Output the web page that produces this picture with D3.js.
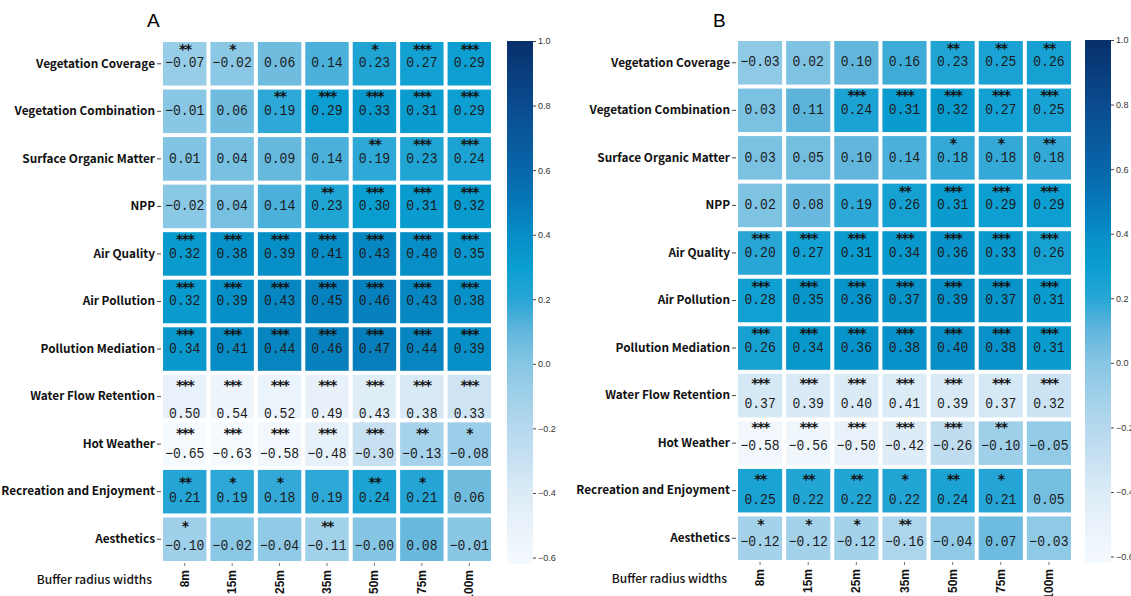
<!DOCTYPE html>
<html>
<head>
<meta charset="utf-8">
<script src="https://cdn.jsdelivr.net/npm/d3@7/dist/d3.min.js"></script>
<style>
  html, body { margin: 0; padding: 0; background: #fff; }
  svg { display: block; }
</style>
</head>
<body>
<svg id="chart" width="1131" height="596"></svg>
<script>
// ---------------- DATA ----------------
const rowLabels = [
  "Vegetation Coverage", "Vegetation Combination", "Surface Organic Matter", "NPP",
  "Air Quality", "Air Pollution", "Pollution Mediation", "Water Flow Retention",
  "Hot Weather", "Recreation and Enjoyment", "Aesthetics"
];
const bufferWidths = ["8m", "15m", "25m", "35m", "50m", "75m", "100m"];
const xAxisTitle = "Buffer radius widths";

// Displayed coefficients, panel A
const valuesA = [
  [-0.07, -0.02, 0.06, 0.14, 0.23, 0.27, 0.29],
  [-0.01, 0.06, 0.19, 0.29, 0.33, 0.31, 0.29],
  [0.01, 0.04, 0.09, 0.14, 0.19, 0.23, 0.24],
  [-0.02, 0.04, 0.14, 0.23, 0.30, 0.31, 0.32],
  [0.32, 0.38, 0.39, 0.41, 0.43, 0.40, 0.35],
  [0.32, 0.39, 0.43, 0.45, 0.46, 0.43, 0.38],
  [0.34, 0.41, 0.44, 0.46, 0.47, 0.44, 0.39],
  [0.50, 0.54, 0.52, 0.49, 0.43, 0.38, 0.33],
  [-0.65, -0.63, -0.58, -0.48, -0.30, -0.13, -0.08],
  [0.21, 0.19, 0.18, 0.19, 0.24, 0.21, 0.06],
  [-0.10, -0.02, -0.04, -0.11, -0.00, 0.08, -0.01]
];
const starsA = [
  ["**", "*", "", "", "*", "***", "***"],
  ["", "", "**", "***", "***", "***", "***"],
  ["", "", "", "", "**", "***", "***"],
  ["", "", "", "**", "***", "***", "***"],
  ["***", "***", "***", "***", "***", "***", "***"],
  ["***", "***", "***", "***", "***", "***", "***"],
  ["***", "***", "***", "***", "***", "***", "***"],
  ["***", "***", "***", "***", "***", "***", "***"],
  ["***", "***", "***", "***", "***", "**", "*"],
  ["**", "*", "*", "", "**", "*", ""],
  ["*", "", "", "**", "", "", ""]
];

// Displayed coefficients, panel B
const valuesB = [
  [-0.03, 0.02, 0.10, 0.16, 0.23, 0.25, 0.26],
  [0.03, 0.11, 0.24, 0.31, 0.32, 0.27, 0.25],
  [0.03, 0.05, 0.10, 0.14, 0.18, 0.18, 0.18],
  [0.02, 0.08, 0.19, 0.26, 0.31, 0.29, 0.29],
  [0.20, 0.27, 0.31, 0.34, 0.36, 0.33, 0.26],
  [0.28, 0.35, 0.36, 0.37, 0.39, 0.37, 0.31],
  [0.26, 0.34, 0.36, 0.38, 0.40, 0.38, 0.31],
  [0.37, 0.39, 0.40, 0.41, 0.39, 0.37, 0.32],
  [-0.58, -0.56, -0.50, -0.42, -0.26, -0.10, -0.05],
  [0.25, 0.22, 0.22, 0.22, 0.24, 0.21, 0.05],
  [-0.12, -0.12, -0.12, -0.16, -0.04, 0.07, -0.03]
];
const starsB = [
  ["", "", "", "", "**", "**", "**"],
  ["", "", "***", "***", "***", "***", "***"],
  ["", "", "", "", "*", "*", "**"],
  ["", "", "", "**", "***", "***", "***"],
  ["***", "***", "***", "***", "***", "***", "***"],
  ["***", "***", "***", "***", "***", "***", "***"],
  ["***", "***", "***", "***", "***", "***", "***"],
  ["***", "***", "***", "***", "***", "***", "***"],
  ["***", "***", "***", "***", "***", "**", ""],
  ["**", "**", "**", "*", "**", "*", ""],
  ["*", "*", "*", "**", "", "", ""]
];

// The Water Flow Retention row is coloured as a negative correlation in the source
const colourSign = [1, 1, 1, 1, 1, 1, 1, -1, 1, 1, 1];

const colourbarTicks = [-0.6, -0.4, -0.2, 0.0, 0.2, 0.4, 0.6, 0.8, 1.0];
const colourDomain = [-0.62, 1.0];

// ---------------- STYLE ----------------
const cmapStops = [-0.62, -0.5, -0.4, -0.3, -0.2, -0.1, 0.0, 0.1, 0.2, 0.3, 0.4, 0.5, 0.6, 0.8, 1.0];
const cmapColours = ["#f5fafe", "#e9f2fa", "#dbebf6", "#c8e1f2", "#b5d8ee", "#a0d0e9", "#86c6e4",
                     "#62b6dc", "#28a6d6", "#0a9ed0", "#078ec6", "#0578b8", "#0866a9", "#0a4b8f", "#08306b"];
const colour = d3.scaleLinear().domain(cmapStops).range(cmapColours).interpolate(d3.interpolateRgb).clamp(true);

const panels = [
  { title: "A", titleX: 147, values: valuesA, stars: starsA,
    x0: 161, x1: 493, y0: 40, y1: 563, cbX: 507, cbW: 26,
    starOff: [-15, -15, -15, -14, -15, -15, -15, -12, -11, -10, -13],
    numOff:  [0, 0, 0, 0, 0, 0, 0, 18, 10, 7, 7] },
  { title: "B", titleX: 713, values: valuesB, stars: starsB,
    x0: 736, x1: 1073, y0: 39, y1: 562, cbX: 1085, cbW: 26,
    starOff: [-15, -15, -15, -14, -15, -15, -15, -13, -16, -12, -14],
    numOff:  [0, 0, 0, 0, 0, 0, 0, 9, 3, 10, 4] }
];

const labelFont = "'Noto Sans CJK SC', 'Noto Sans', sans-serif";
const monoFont = "'Liberation Mono', 'DejaVu Sans Mono', monospace";
const fmt = v => ((v < 0 || Object.is(v, -0)) ? "\u2212" : "") + Math.abs(v).toFixed(2);

const svg = d3.select("#chart");
const defs = svg.append("defs");

panels.forEach((p, pi) => {
  const g = svg.append("g");
  const x = d3.scaleBand().domain(bufferWidths).range([p.x0, p.x1]);
  const y = d3.scaleBand().domain(rowLabels).range([p.y0, p.y1]);

  const cells = [];
  p.values.forEach((row, ri) => row.forEach((v, ci) => {
    cells.push({ r: rowLabels[ri], c: bufferWidths[ci], v, s: p.stars[ri][ci], ri });
  }));

  const cg = g.selectAll("g.cell").data(cells).join("g").attr("class", "cell");
  cg.append("rect")
    .attr("x", d => x(d.c) + 2)
    .attr("y", d => y(d.r) + 2)
    .attr("width", x.bandwidth() - 4)
    .attr("height", y.bandwidth() - 4)
    .attr("fill", d => colour(d.v * colourSign[d.ri]));
  cg.append("text")
    .attr("transform", d => `translate(${x(d.c) + x.bandwidth() / 2},${y(d.r) + y.bandwidth() / 2 + p.numOff[d.ri]}) scale(0.9,1)`)
    .attr("text-anchor", "middle")
    .attr("dominant-baseline", "central")
    .attr("font-family", monoFont)
    .attr("font-size", 14.5)
    .attr("fill", "#1a1a1a")
    .text(d => fmt(d.v));
  cg.filter(d => d.s).append("text")
    .attr("x", d => x(d.c) + x.bandwidth() / 2)
    .attr("y", d => y(d.r) + y.bandwidth() / 2 + p.starOff[d.ri])
    .attr("text-anchor", "middle")
    .attr("dominant-baseline", "central")
    .attr("font-family", "'DejaVu Sans', sans-serif")
    .attr("font-size", 14)
    .attr("font-weight", "bold")
    .attr("fill", "#111")
    .attr("letter-spacing", -1.5)
    .text(d => d.s);

  // Row axis
  const ya = g.append("g").attr("transform", `translate(${p.x0},0)`)
    .call(d3.axisLeft(y).tickSize(4).tickPadding(2));
  ya.select(".domain").remove();
  ya.selectAll("line").attr("stroke", "#444");
  ya.selectAll("text")
    .attr("font-family", labelFont)
    .attr("font-size", 11.8).attr("font-weight", "bold").attr("fill", "#111");

  // Column axis
  const xa = g.append("g").attr("transform", `translate(0,${p.y1})`)
    .call(d3.axisBottom(x).tickSize(3).tickPadding(0));
  xa.select(".domain").remove();
  xa.selectAll("line").attr("stroke", "#777");
  xa.selectAll("text")
    .attr("font-family", "'Liberation Sans', Arial, sans-serif")
    .attr("font-size", 12).attr("font-weight", "bold").attr("fill", "#111")
    .attr("text-anchor", "end")
    .attr("dy", null)
    .attr("transform", "translate(0,7) rotate(-90)")
    .attr("x", 0).attr("y", 0).attr("dominant-baseline", "central");

  g.append("text").attr("x", p.x0 - 9).attr("y", p.y1 + 15)
    .attr("text-anchor", "end").attr("dominant-baseline", "central")
    .attr("font-family", labelFont)
    .attr("font-size", 12).attr("font-weight", 500).attr("fill", "#111")
    .text(xAxisTitle);

  // Title
  g.append("text").attr("x", p.titleX).attr("y", 20)
    .attr("dominant-baseline", "central")
    .attr("font-family", "'Liberation Sans', Arial, sans-serif")
    .attr("font-size", 19).attr("fill", "#000")
    .text(p.title);

  // Colourbar
  const cy = d3.scaleLinear().domain(colourDomain).range([p.y1 + 1, p.y0 + 1]);
  const gid = "grad" + pi;
  const grad = defs.append("linearGradient").attr("id", gid)
    .attr("x1", 0).attr("y1", 1).attr("x2", 0).attr("y2", 0);
  cmapStops.forEach((s, i) => {
    grad.append("stop")
      .attr("offset", (s - colourDomain[0]) / (colourDomain[1] - colourDomain[0]))
      .attr("stop-color", cmapColours[i]);
  });
  g.append("rect").attr("x", p.cbX).attr("y", cy(colourDomain[1]))
    .attr("width", p.cbW).attr("height", cy(colourDomain[0]) - cy(colourDomain[1]))
    .attr("fill", `url(#${gid})`);
  const ca = g.append("g").attr("transform", `translate(${p.cbX + p.cbW},0)`)
    .call(d3.axisRight(cy).tickValues(colourbarTicks).tickFormat(d3.format(".1f")).tickSize(3).tickPadding(2));
  ca.select(".domain").remove();
  ca.selectAll("line").attr("stroke", "#444");
  ca.selectAll("text").attr("font-family", "'Liberation Sans', Arial, sans-serif")
    .attr("font-size", 9).attr("fill", "#333");
});
</script>
</body>
</html>
